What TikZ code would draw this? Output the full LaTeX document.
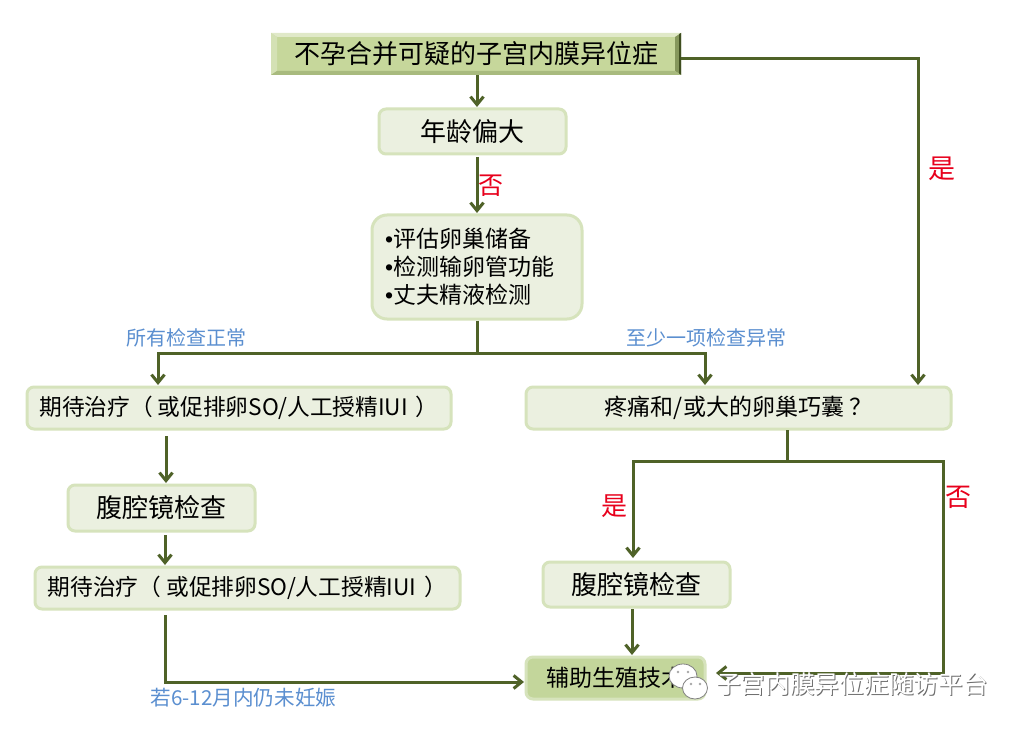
\documentclass[tikz,border=0pt]{standalone}
\usepackage{fontspec}
\setmainfont{Noto Sans CJK SC}
\newfontfamily\bulletfont{Liberation Sans}
\usetikzlibrary{arrows.meta}
\definecolor{olive}{HTML}{4F6228}
\definecolor{boxfill}{HTML}{EBF0E0}
\definecolor{boxline}{HTML}{D6E3BC}
\definecolor{topfill}{HTML}{C6D79B}
\definecolor{asrfill}{HTML}{C3D69B}
\definecolor{lblue}{HTML}{5B8FD0}
\definecolor{lred}{HTML}{E8001C}
\newcommand{\fsz}[1]{\fontsize{#1}{#1}\selectfont}
\newcommand{\waittext}{期待治疗（\kern5pt 或促排卵SO/人工授精IUI\kern8pt ）}
\tikzset{
 x=1pt,y=-1pt,
 flowbox/.style={draw=boxline,fill=boxfill,line width=3pt,rounded corners=7pt,inner sep=0pt,align=center,text=black},
 conn/.style={draw=olive,line width=3pt},
 arr/.style={conn,-{Straight Barb[length=8pt,width=13pt,line width=3pt]}},
 bluetxt/.style={text=lblue,inner sep=0pt,font=\fsz{20}},
 redtxt/.style={text=lred,inner sep=0pt,font=\fsz{25}},
}
\begin{document}
\begin{tikzpicture}
\useasboundingbox (0,0) rectangle (1023,730);
\fill[white] (0,0) rectangle (1023,730);
% bevelled title box
\fill[topfill] (271,33) rectangle (681,75);
\fill[topfill!55!white] (271,33) -- (681,33) -- (675,37) -- (277,37) -- cycle;
\fill[topfill!75!white] (271,33) -- (277,37) -- (277,71) -- (271,75) -- cycle;
\fill[topfill!45!olive] (681,33) -- (681,75) -- (675,71) -- (675,37) -- cycle;
\fill[olive!80!black] (681,33) -- (681,75) -- (679,74) -- (679,34) -- cycle;
\fill[topfill!75!olive] (271,75) -- (681,75) -- (675,71) -- (277,71) -- cycle;
\node[inner sep=0pt,text=black,font=\fsz{26}] (top) at (476,54) [minimum width=410pt,minimum height=42pt] {不孕合并可疑的子宫内膜异位症};
\node[flowbox,minimum width=187pt,minimum height=45pt,font=\fsz{26}] (age) at (472.5,131.5) {年龄偏大};
\node[flowbox,rounded corners=15pt,minimum width=210pt,minimum height=104pt,font=\fsz{23},align=left,text width=184pt,inner xsep=13pt] (eval) at (477,267) {{\bulletfont •}评估卵巢储备\\[5pt]{\bulletfont •}检测输卵管功能\\[5pt]{\bulletfont •}丈夫精液检测};
\node[flowbox,minimum width=424pt,minimum height=42pt,font=\fsz{22.7}] (wait1) at (239,408) {\waittext};
\node[flowbox,minimum width=425pt,minimum height=42pt,font=\fsz{23}] (pain) at (738.5,408) {疼痛和/或大的卵巢巧囊\kern5pt ？};
\node[flowbox,minimum width=187pt,minimum height=46pt,font=\fsz{26}] (lap1) at (161.5,508) {腹腔镜检查};
\node[flowbox,minimum width=425pt,minimum height=42pt,font=\fsz{22.7}] (wait2) at (247.5,588) {\waittext};
\node[flowbox,minimum width=187pt,minimum height=45pt,font=\fsz{26}] (lap2) at (636.5,584.5) {腹腔镜检查};
\node[flowbox,fill=asrfill,minimum width=179pt,minimum height=42pt,font=\fsz{23}] (asr) at (615.5,678) {辅助生殖技术};
% junction coordinates
\coordinate (agetop) at (477,107);
\coordinate (ageout) at (477,157);
\coordinate (evalin) at (477,213);
\coordinate (topout) at (477,75);
\coordinate (j1) at (477,353);
\coordinate (jl) at (158,353);
\coordinate (jr) at (705,353);
\coordinate (w1in) at (158,385);
\coordinate (pin) at (705,385);
\coordinate (c1) at (918,58.5);
\coordinate (pin2) at (918,385);
\coordinate (w1out) at (166,436);
\coordinate (l1in) at (166,483);
\coordinate (l1out) at (165,535);
\coordinate (w2in) at (165,565);
\coordinate (w2out) at (165,615);
\coordinate (c2) at (165,682);
\coordinate (asrl) at (524,682);
\coordinate (pout) at (787,430);
\coordinate (j2) at (787,461);
\coordinate (jy) at (633,461);
\coordinate (jn) at (943,461);
\coordinate (l2in) at (633,558);
\coordinate (c3) at (943,673);
\coordinate (asrr) at (716,673);
\coordinate (l2out) at (632,609);
\coordinate (asrt) at (632,655);
% connectors
\draw[arr] (topout) -- (agetop);
\draw[arr] (ageout) -- (evalin);
\draw[conn] (eval.south -| j1) -- (j1);
\draw[arr] (j1) -- (jl) -- (w1in);
\draw[arr] (j1) -- (jr) -- (pin);
\draw[arr] (top.east |- c1) -- (c1) -- (pin2);
\draw[arr] (w1out) -- (l1in);
\draw[arr] (l1out) -- (w2in);
\draw[arr] (w2out) -- (c2) -- (asrl);
\draw[conn] (pout) -- (j2);
\draw[arr] (j2) -- (jy) -- (l2in);
\draw[arr] (j2) -- (jn) -- (c3) -- (asrr);
\draw[arr] (l2out) -- (asrt);
% labels
\node[redtxt] (no1) at (490.5,186) {否};
\node[redtxt,font=\fsz{27}] (yes1) at (942,169) {是};
\node[bluetxt] (ok) at (186,338) {所有检查正常};
\node[bluetxt] (bad) at (706.5,338) {至少一项检查异常};
\node[redtxt,font=\fsz{26}] (yes2) at (614,506) {是};
\node[redtxt,font=\fsz{26}] (no2) at (958,497) {否};
\node[bluetxt,font=\fsz{20.6}] (after) at (243.5,698) {若6-12月内仍未妊娠};
% watermark
\path[draw=gray,fill=white,line width=.8pt] (683,676) ellipse [x radius=14pt,y radius=12pt];
\fill[gray!70] (678,672) circle (1.4pt) (688,672) circle (1.4pt);
\path[draw=gray,fill=white,line width=.8pt] (695,688) ellipse [x radius=12.5pt,y radius=11pt];
\fill[gray!70] (691,684) circle (1.3pt) (700,684) circle (1.3pt);
\node[inner sep=0pt,text=gray!85!black,font=\fsz{24.7}] (wms) at (853,685) {子宫内膜异位症随访平台};
\node[inner sep=0pt,text=white,font=\fsz{24.7}] (wm) at (852,684) {子宫内膜异位症随访平台};
\end{tikzpicture}
\end{document}
